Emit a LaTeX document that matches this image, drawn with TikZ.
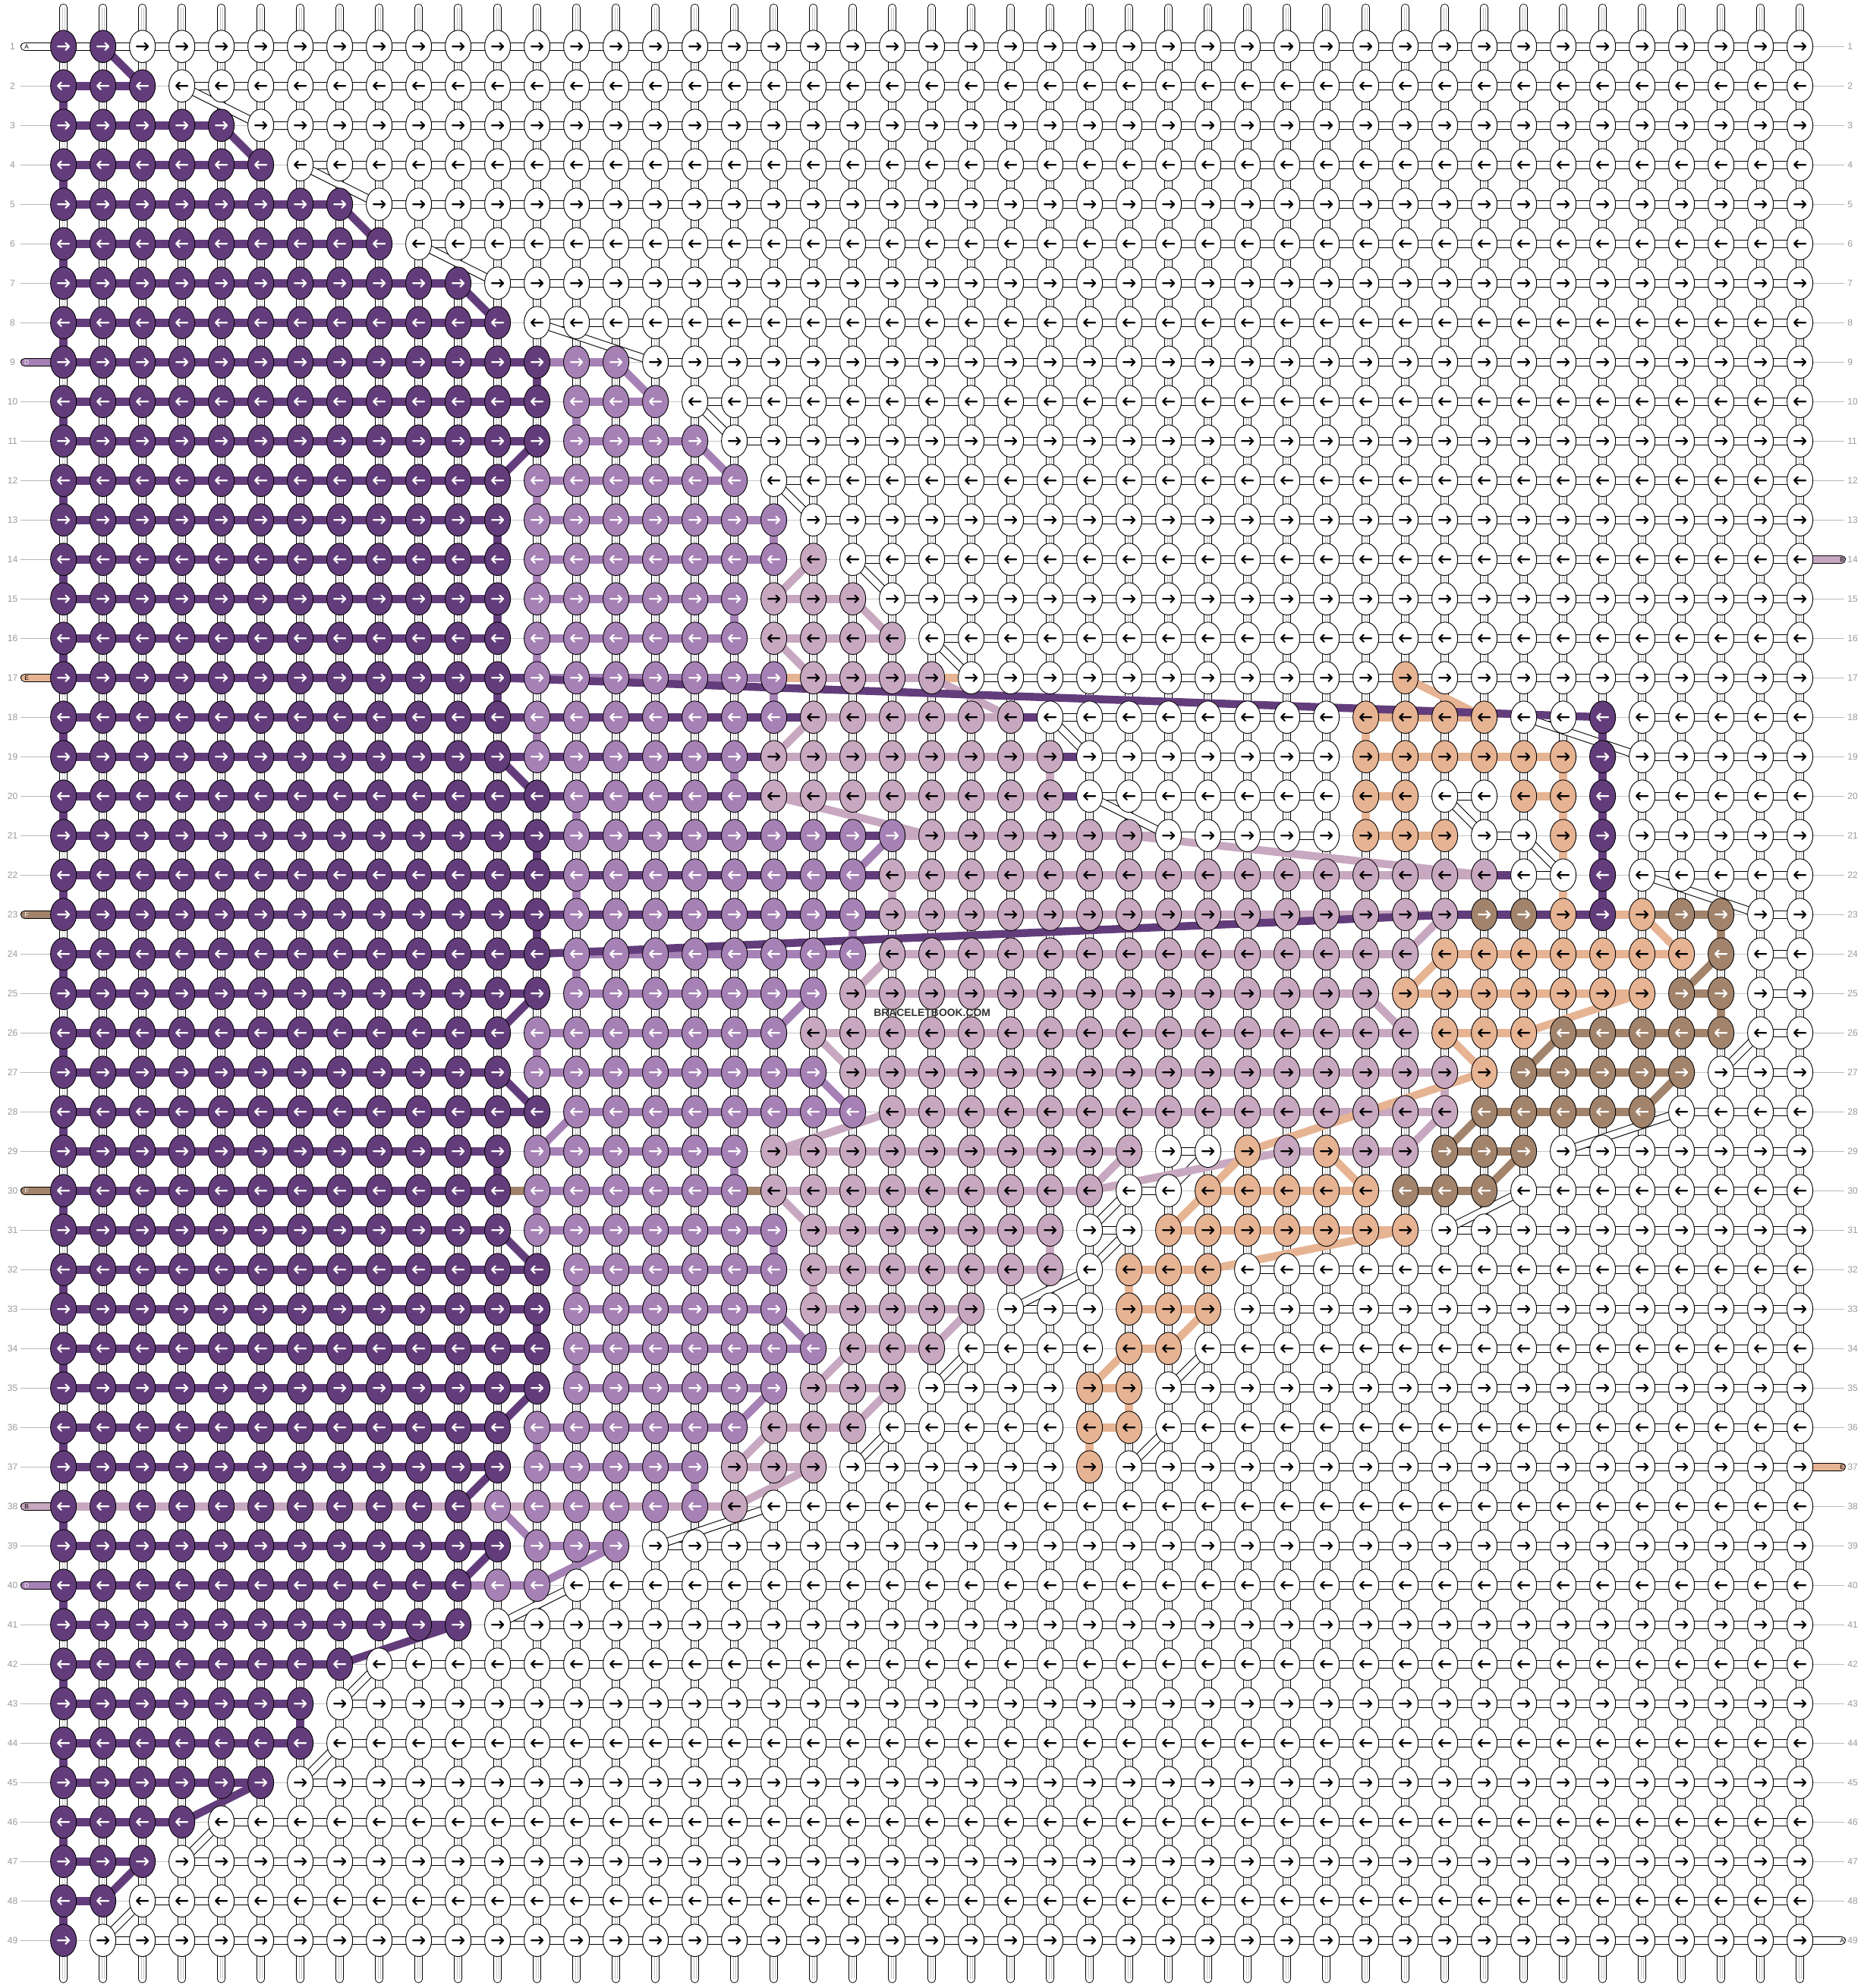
\documentclass[tikz,border=0pt]{standalone}
\usepackage{fontspec}
\setmainfont{Liberation Sans}
\usetikzlibrary{calc}

% thread colours
\definecolor{cD}{HTML}{633D7B}
\definecolor{cM}{HTML}{A681B5}
\definecolor{cL}{HTML}{C8A8C0}
\definecolor{cP}{HTML}{E6B393}
\definecolor{cB}{HTML}{A2836B}
\definecolor{cW}{HTML}{FFFFFF}
% arrow colour on each thread
\colorlet{aD}{white}
\colorlet{aM}{white}
\colorlet{aB}{white}
\colorlet{aL}{black}
\colorlet{aP}{black}
\colorlet{aW}{black}
\definecolor{numgray}{HTML}{9A9A9A}
\definecolor{gapgray}{HTML}{C4C4C4}

\newcommand\labfont{\fontsize{6.6}{7}\selectfont}
\newcommand\tagfont{\fontsize{4.6}{5}\selectfont}

\tikzset{
  knot/.style={draw=black, line width=0.5pt},
  arrline/.style={line width=1.2pt, line cap=round, line join=round},
  strout/.style={line width=0.205cm, black, line cap=round},
  strin/.style={line width=0.17cm, white, line cap=round},
  strline/.style={line width=0.35pt, gapgray},
  wband/.style={line width=0.21cm, black},
  wcore/.style={line width=0.17cm, white},
  cband/.style={line width=0.21cm},
  gap/.style={line width=0.4pt, gapgray},
  cturn/.style={line width=0.2cm},
  rowline/.style={line width=0.5pt, numgray!70},
  rownum/.style={text=numgray, font=\labfont, inner sep=0pt},
  stubout/.style={line width=0.21cm, black, line cap=round},
  stubin/.style={line width=0.17cm, line cap=round},
  stubtag/.style={font=\tagfont, inner sep=0pt},
}

% knot colours, one row at a time as colour/run
\newcount\colc
\newif\iffound
\newcommand\knotrow[2]{%
  \expandafter\gdef\csname runs-#1\endcsname{#2}%
  \global\colc=0
  \foreach \kk/\nn in {#2}{%
    \foreach \jj in {1,...,\nn}{%
      \global\advance\colc by 1
      \expandafter\xdef\csname kc-#1-\the\colc\endcsname{\kk}%
    }%
  }%
}
% band between knot (row,col) and (row,col+1) that differs from the knots
\newcommand\band[3]{\expandafter\xdef\csname bd-#1-#2\endcsname{#3}}
\newcommand\bandrun[4]{\foreach \qq in {#2,...,#3}{\band{#1}{\qq}{#4}}}
% a run end that is joined by hand instead
\newcommand\noturn[2]{\expandafter\gdef\csname nt-#1-#2\endcsname{}}
% one straight run of band in a row
\newcommand\drawrun[4]{%
  \if N#4\relax
    \draw[gap] (#2,-#1) -- (#3,-#1);
  \else\if W#4\relax
    \draw[wband] (#2,-#1) -- (#3,-#1);
    \draw[wcore] (#2,-#1) -- (#3,-#1);
  \else
    \draw[cband, draw=c#4] (#2,-#1) -- (#3,-#1);
  \fi\fi}

\knotrow{1}{D/2,W/43}
\knotrow{2}{D/3,W/42}
\knotrow{3}{D/5,W/40}
\knotrow{4}{D/6,W/39}
\knotrow{5}{D/8,W/37}
\knotrow{6}{D/9,W/36}
\knotrow{7}{D/11,W/34}
\knotrow{8}{D/12,W/33}
\knotrow{9}{D/13,M/2,W/30}
\knotrow{10}{D/13,M/3,W/29}
\knotrow{11}{D/13,M/4,W/28}
\knotrow{12}{D/12,M/6,W/27}
\knotrow{13}{D/12,M/7,W/26}
\knotrow{14}{D/12,M/7,L/1,W/25}
\knotrow{15}{D/12,M/6,L/3,W/24}
\knotrow{16}{D/12,M/6,L/4,W/23}
\knotrow{17}{D/12,M/7,L/4,W/11,P/1,W/10}
\knotrow{18}{D/12,M/7,L/6,W/8,P/4,W/2,D/1,W/5}
\knotrow{19}{D/12,M/6,L/8,W/7,P/6,D/1,W/5}
\knotrow{20}{D/13,M/5,L/8,W/7,P/2,W/2,P/2,D/1,W/5}
\knotrow{21}{D/13,M/9,L/6,W/5,P/3,W/2,P/1,D/1,W/5}
\knotrow{22}{D/13,M/8,L/16,W/2,D/1,W/5}
\knotrow{23}{D/13,M/8,L/15,B/2,P/1,D/1,P/1,B/2,W/2}
\knotrow{24}{D/13,M/8,L/14,P/7,B/1,W/2}
\knotrow{25}{D/13,M/7,L/14,P/7,B/2,W/2}
\knotrow{26}{D/12,M/7,L/16,P/3,B/5,W/2}
\knotrow{27}{D/12,M/8,L/16,P/1,B/5,W/3}
\knotrow{28}{D/13,M/8,L/15,B/5,W/4}
\knotrow{29}{D/12,M/6,L/10,W/2,P/1,L/1,P/1,L/2,B/3,W/7}
\knotrow{30}{D/12,M/6,L/9,W/2,P/5,B/3,W/8}
\knotrow{31}{D/12,M/7,L/7,W/2,P/7,W/10}
\knotrow{32}{D/13,M/6,L/7,W/1,P/3,W/15}
\knotrow{33}{D/13,M/6,L/5,W/3,P/3,W/15}
\knotrow{34}{D/13,M/7,L/3,W/4,P/2,W/16}
\knotrow{35}{D/13,M/6,L/3,W/4,P/2,W/17}
\knotrow{36}{D/12,M/6,L/3,W/5,P/2,W/17}
\knotrow{37}{D/12,M/5,L/3,W/6,P/1,W/18}
\knotrow{38}{D/11,M/6,L/1,W/27}
\knotrow{39}{D/12,M/3,W/30}
\knotrow{40}{D/11,M/2,W/32}
\knotrow{41}{D/11,W/34}
\knotrow{42}{D/8,W/37}
\knotrow{43}{D/7,W/38}
\knotrow{44}{D/7,W/38}
\knotrow{45}{D/6,W/39}
\knotrow{46}{D/4,W/41}
\knotrow{47}{D/3,W/42}
\knotrow{48}{D/2,W/43}
\knotrow{49}{D/1,W/44}

\band{1}{1}{W}\band{1}{2}{W}
\band{9}{13}{M}
\band{17}{12}{D}\band{17}{19}{P}\band{17}{23}{P}\band{17}{34}{W}\band{17}{35}{W}
\bandrun{18}{12}{19}{D}\band{18}{25}{D}
\bandrun{19}{12}{18}{D}\band{19}{26}{D}
\bandrun{20}{13}{18}{D}\band{20}{26}{D}
\bandrun{21}{13}{21}{D}\band{21}{22}{L}\band{21}{28}{L}
\bandrun{22}{13}{21}{D}\band{22}{37}{D}
\bandrun{23}{13}{21}{D}\bandrun{23}{36}{39}{D}\band{23}{40}{P}\band{23}{41}{B}
\band{29}{32}{L}\band{29}{33}{L}
\band{30}{12}{B}\band{30}{18}{B}
\bandrun{38}{1}{17}{L}
\band{40}{11}{M}

\noturn{17}{34}\noturn{20}{38}\noturn{23}{39}\noturn{29}{31}

\begin{document}
\begin{tikzpicture}
\useasboundingbox (0,0) rectangle (47.231,-50.385);
\fill[white] (0,0) rectangle (47.231,-50.385);
\begin{scope}[shift={(0.608,-0.177)}]

% vertical strings
\foreach \co in {1,...,45}{
  \draw[strout] (\co,-0.02) -- (\co,-49.98);
  \draw[strin] (\co,-0.02) -- (\co,-49.98);
  \draw[strline] (\co-0.033,-0.02) -- (\co-0.033,-49.98);
  \draw[strline] (\co+0.033,-0.02) -- (\co+0.033,-49.98);
}

% row numbers
\foreach \ro in {1,...,49}{
  \node[rownum] (nl-\ro) at (-0.29,-\ro) {\ro};
  \node[rownum, anchor=west] (nr-\ro) at (46.2,-\ro) {\ro};
  \draw[rowline] (-0.09,-\ro) -- (1,-\ro);
  \draw[rowline] (45,-\ro) -- (46.12,-\ro);
}

% horizontal bands, drawn as runs of one colour
\foreach \ro in {1,...,49}{
  \gdef\runcol{?}\gdef\runstart{1}
  \foreach \co in {1,...,45}{
    \ifnum\co<45
      \pgfmathtruncatemacro\cn{\co+1}
      \ifcsname bd-\ro-\co\endcsname
        \edef\bc{\csname bd-\ro-\co\endcsname}
      \else
        \edef\ka{\csname kc-\ro-\co\endcsname}
        \edef\kb{\csname kc-\ro-\cn\endcsname}
        \ifx\ka\kb \edef\bc{\ka}\else \def\bc{N}\fi
      \fi
    \else
      \def\bc{Z}
    \fi
    \ifx\bc\runcol\else
      \if ?\runcol\else \drawrun{\ro}{\runstart}{\co}{\runcol}\fi
      \xdef\runcol{\bc}\xdef\runstart{\co}
    \fi
  }
}

% turns: end of a colour run joins the start of the same colour in the next row
\foreach \ro in {1,...,48}{
  \pgfmathtruncatemacro\rn{\ro+1}
  \pgfmathtruncatemacro\odd{mod(\ro,2)}
  \foreach \co in {1,...,45}{
    \pgfmathtruncatemacro\cn{\co+1}
    \pgfmathtruncatemacro\cp{\co-1}
    \edef\X{\csname kc-\ro-\co\endcsname}
    \ifnum\odd=1 \edef\Y{\csname kc-\ro-\cn\endcsname}\else \edef\Y{\csname kc-\ro-\cp\endcsname}\fi
    \ifcsname nt-\ro-\co\endcsname \let\Y\X \fi
    \ifx\X\Y\else
      \global\foundfalse
      \foreach \dd in {0,1,-1,2,-2,3,-3,4,-4}{
        \iffound\else
          \pgfmathtruncatemacro\cc{\co+\dd}
          \ifnum\odd=1 \pgfmathtruncatemacro\ce{\cc+1}\else \pgfmathtruncatemacro\ce{\cc-1}\fi
          \edef\Z{\csname kc-\rn-\cc\endcsname}
          \edef\Zn{\csname kc-\rn-\ce\endcsname}
          \ifx\X\Z\ifx\X\Zn\else
            \global\foundtrue
            \if W\X
              \ifnum\dd=0 \else
                \draw[wband] (\co,-\ro) -- (\cc,-\rn);
                \draw[wcore] (\co,-\ro) -- (\cc,-\rn);
              \fi
            \else
              \draw[cturn, draw=c\X] (\co,-\ro) -- (\cc,-\rn);
            \fi
          \fi\fi
        \fi
      }
    \fi
  }
}

% long threads
\draw[cturn, draw=cD] (12,-17) -- (40,-18);
\draw[cturn, draw=cD] (13,-24) -- (36.3,-23) -- (40,-23);
\draw[cturn, draw=cL] (28,-21) -- (37,-22);
\draw[cturn, draw=cL] (27,-30) -- (32,-29);
\draw[cturn, draw=cL] (36,-28) -- (35,-29);
\draw[cturn, draw=cP] (39,-20) -- (39,-23);
\draw[cturn, draw=cP] (37,-27) -- (31,-29);
\draw[cturn, draw=cP] (31,-29) -- (30,-30);
\draw[cturn, draw=cP] (35,-31) -- (30,-32);

% thread ends
\foreach \ro/\tg/\cl/\tc in {1/A/W/black, 9/D/M/white, 17/E/P/black, 23/F/B/white, 30/F/B/white, 38/B/L/black, 40/D/M/white}{
  \draw[stubout] (0.015,-\ro) -- (1,-\ro);
  \draw[stubin, draw=c\cl] (0.015,-\ro) -- (1,-\ro);
  \node[stubtag, text=\tc] (tl-\ro) at (0.07,-\ro) {\tg};
}
\foreach \ro/\tg/\cl/\tc in {14/B/L/black, 37/E/P/black, 49/A/W/black}{
  \draw[stubout] (45,-\ro) -- (46.055,-\ro);
  \draw[stubin, draw=c\cl] (45,-\ro) -- (46.055,-\ro);
  \node[stubtag, text=\tc] (tr-\ro) at (46.07,-\ro) {\tg};
}

% knots, one colour run at a time
\foreach \ro in {1,...,49}{
  \pgfmathtruncatemacro\odd{mod(\ro,2)}
  \global\colc=0
  \edef\rr{\csname runs-\ro\endcsname}
  \foreach \kk/\nn in \rr{
    \pgfmathtruncatemacro\cs{\colc+1}
    \global\advance\colc by \nn
    \edef\cz{\the\colc}
    \filldraw[knot, fill=c\kk] \foreach \jj in {\cs,...,\cz}{(\jj,-\ro) ellipse (0.327 and 0.41)};
    \ifnum\odd=1
      \draw[arrline, draw=a\kk] \foreach \jj in {\cs,...,\cz}{(\jj-0.145,-\ro) -- (\jj+0.14,-\ro) (\jj+0.055,-\ro+0.09) -- (\jj+0.145,-\ro) -- (\jj+0.055,-\ro-0.09)};
    \else
      \draw[arrline, draw=a\kk] \foreach \jj in {\cs,...,\cz}{(\jj+0.145,-\ro) -- (\jj-0.14,-\ro) (\jj-0.055,-\ro+0.09) -- (\jj-0.145,-\ro) -- (\jj-0.055,-\ro-0.09)};
    \fi
  }
}

\node[font=\bfseries\fontsize{7.6}{8}\selectfont, text=black!80, inner sep=0pt] (mark) at (23.01,-25.49) {BRACELETBOOK.COM};

\end{scope}
\end{tikzpicture}
\end{document}
